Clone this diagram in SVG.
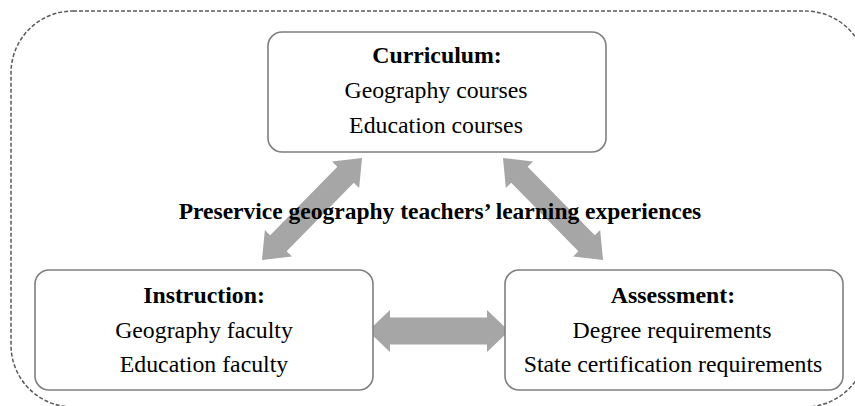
<svg xmlns="http://www.w3.org/2000/svg" width="855" height="406" viewBox="0 0 855 406">
<defs>
<style>
.outer{fill:none;stroke:#5a5a5a;stroke-width:1.5;stroke-dasharray:4 2}
.box{fill:#fff;stroke:#7f7f7f;stroke-width:1.6}
.t{font-family:"Liberation Serif","Times New Roman",serif;font-size:23.8px;fill:#000;text-anchor:middle}
.b{font-weight:bold}
.arr{fill:#a6a6a6}
</style>
</defs>
<rect class="outer" x="11" y="11" width="856" height="396" rx="62" ry="62"/>
<g id="connectors">
<path class="arr" transform="translate(438.5,331)" d="M-70.5,0 L-48.5,-21 L-48.5,-13.5 L48.5,-13.5 L48.5,-21 L70.5,0 L48.5,21 L48.5,13.5 L-48.5,13.5 L-48.5,21 Z"/>
<path class="arr" transform="translate(312,209) rotate(-45.6)" d="M-71.5,0 L-48,-19 L-48,-11.5 L48,-11.5 L48,-19 L71.5,0 L48,19 L48,11.5 L-48,11.5 L-48,19 Z"/>
<path class="arr" transform="translate(553,209) rotate(45.6)" d="M-71.5,0 L-48,-19 L-48,-11.5 L48,-11.5 L48,-19 L71.5,0 L48,19 L48,11.5 L-48,11.5 L-48,19 Z"/>
</g>
<g id="curriculum">
<rect class="box" x="268" y="32" width="338" height="120" rx="14"/>
<text class="t b" x="437" y="63">Curriculum:</text>
<text class="t" x="436" y="98">Geography courses</text>
<text class="t" x="436" y="133">Education courses</text>
</g>
<g id="instruction">
<rect class="box" x="35" y="270" width="338" height="120" rx="14"/>
<text class="t b" x="204" y="303">Instruction:</text>
<text class="t" x="204" y="338">Geography faculty</text>
<text class="t" x="204" y="372">Education faculty</text>
</g>
<g id="assessment">
<rect class="box" x="505" y="270" width="338" height="120" rx="14"/>
<text class="t b" x="673" y="303">Assessment:</text>
<text class="t" x="672" y="338">Degree requirements</text>
<text class="t" x="673" y="372">State certification requirements</text>
</g>
<g id="title">
<text class="t b" x="440" y="219" style="font-size:23.5px">Preservice geography teachers’ learning experiences</text>
</g>
</svg>
